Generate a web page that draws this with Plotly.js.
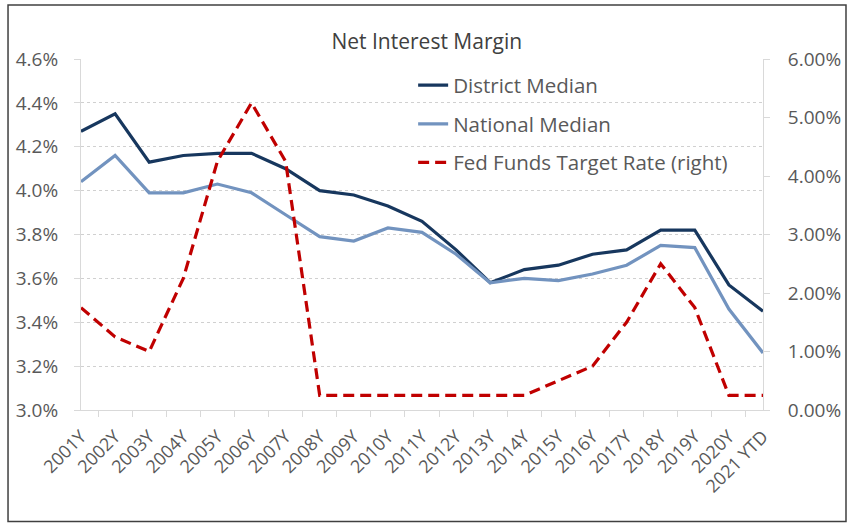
<!DOCTYPE html>
<html>
<head>
<meta charset="utf-8">
<script src="https://cdn.plot.ly/plotly-3.0.1.min.js"></script>
<style>html,body{margin:0;padding:0;background:#fff;}#chart{width:856px;height:523px;}</style>
</head>
<body>
<div id="chart"></div>
<script>
const years = ["2001Y","2002Y","2003Y","2004Y","2005Y","2006Y","2007Y","2008Y","2009Y","2010Y","2011Y","2012Y","2013Y","2014Y","2015Y","2016Y","2017Y","2018Y","2019Y","2020Y","2021 YTD"];
const districtMedian = [4.27,4.35,4.13,4.16,4.17,4.17,4.10,4.00,3.98,3.93,3.86,3.73,3.58,3.64,3.66,3.71,3.73,3.82,3.82,3.57,3.45];
const nationalMedian = [4.04,4.16,3.99,3.99,4.03,3.99,3.89,3.79,3.77,3.83,3.81,3.71,3.58,3.60,3.59,3.62,3.66,3.75,3.74,3.46,3.26];
const fedFunds = [1.75,1.25,1.00,2.25,4.25,5.25,4.25,0.25,0.25,0.25,0.25,0.25,0.25,0.25,0.50,0.75,1.50,2.50,1.75,0.25,0.25];

const FONT = "Open Sans, Liberation Sans, sans-serif";
const traces = [
  {x: years, y: districtMedian, name: "District Median", type: "scatter", mode: "lines",
   line: {color: "#17375E", width: 3.2}, legendgroup: "a", yaxis: "y"},
  {x: years, y: nationalMedian, name: "National Median", type: "scatter", mode: "lines",
   line: {color: "#7293BF", width: 3.2}, legendgroup: "b", yaxis: "y"},
  {x: years, y: fedFunds, name: "Fed Funds Target Rate (right)", type: "scatter", mode: "lines",
   line: {color: "#C00000", width: 3.2, dash: "11px,6px"}, legendgroup: "c", yaxis: "y2"}
];

const layout = {
  width: 856, height: 523,
  margin: {l: 81, r: 93, t: 59, b: 113},
  paper_bgcolor: "#ffffff", plot_bgcolor: "#ffffff",
  font: {family: FONT, color: "#595959", size: 18},
  title: {text: "Net Interest Margin", x: 0.507, xref: "paper", y: 0.92, yref: "container", yanchor: "middle",
          font: {family: FONT, size: 21, color: "#404040"}},
  showlegend: true,
  legend: {x: 0.487, y: 0.982, xanchor: "left", yanchor: "top", bgcolor: "rgba(0,0,0,0)",
           traceorder: "grouped", tracegroupgap: 9, font: {family: FONT, size: 20.5, color: "#595959"}},
  xaxis: {type: "category", tickson: "boundaries", ticks: "outside", ticklen: 6, tickcolor: "#d9d9d9",
          showline: true, linecolor: "#d9d9d9", linewidth: 1, showgrid: false, tickangle: -45,
          ticklabelstandoff: 8,
          tickfont: {family: FONT, size: 18, color: "#595959"}, zeroline: false},
  yaxis: {range: [3.0, 4.6], dtick: 0.2, tick0: 3.0, tickformat: ".1f", ticksuffix: "%",
          showline: true, linecolor: "#d9d9d9", ticks: "outside", ticklen: 6, tickcolor: "#d9d9d9",
          showgrid: true, gridcolor: "#d0d0d0", griddash: "dot", gridwidth: 1, zeroline: false,
          ticklabelstandoff: 12, tickfont: {family: FONT, size: 19, color: "#595959"}},
  yaxis2: {range: [0, 6], dtick: 1, tick0: 0, tickformat: ".2f", ticksuffix: "%", overlaying: "y", side: "right",
           showline: true, linecolor: "#d9d9d9", ticks: "outside", ticklen: 6, tickcolor: "#d9d9d9",
           showgrid: false, zeroline: false, ticklabelstandoff: 14,
           tickfont: {family: FONT, size: 19, color: "#595959"}},
  shapes: [
    {type: "rect", xref: "paper", yref: "paper", x0: -0.107, x1: 1.1217, y0: -0.3177, y1: 1.1538,
     line: {color: "#404040", width: 1.5}, fillcolor: "rgba(0,0,0,0)", layer: "below"}
  ]
};

Plotly.newPlot("chart", traces, layout, {displayModeBar: false, staticPlot: true});
</script>
</body>
</html>
